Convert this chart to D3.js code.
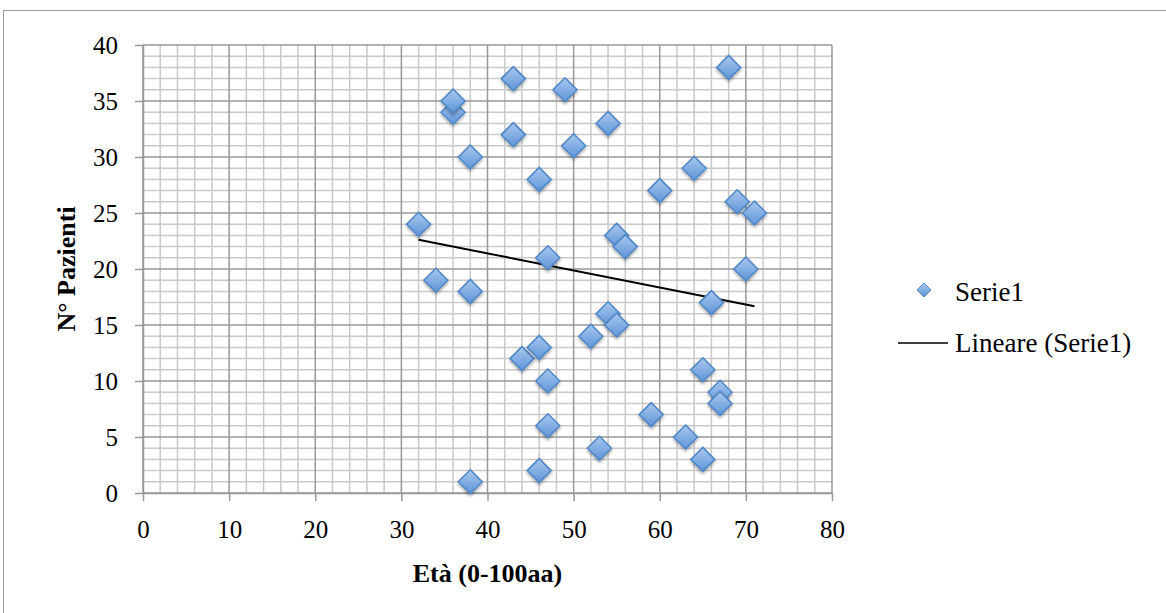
<!DOCTYPE html>
<html>
<head>
<meta charset="utf-8">
<script src="https://cdn.jsdelivr.net/npm/d3@7"></script>
<style>
  body { margin: 0; background: #fff; }
  text { font-family: "Liberation Serif", "DejaVu Serif", serif; }
</style>
</head>
<body>
<div id="mycanvas"></div>
<script>
const width = 1166;
const height = 613;

// età (x) e numero paziente (y)
const eta = [32, 34, 36, 36, 38, 38, 38, 43, 43, 44, 46, 46, 46, 47, 47, 47, 49, 50, 52,
  53, 54, 54, 55, 55, 56, 59, 60, 63, 64, 65, 65, 66, 67, 67, 68, 69, 70, 71];
const pazienti = [24, 19, 34, 35, 30, 18, 1, 37, 32, 12, 28, 13, 2, 21, 10, 6, 36, 31, 14,
  4, 33, 16, 23, 15, 22, 7, 27, 5, 29, 11, 3, 17, 9, 8, 38, 26, 20, 25];
const xTicks = [0, 10, 20, 30, 40, 50, 60, 70, 80];
const yTicks = [0, 5, 10, 15, 20, 25, 30, 35, 40];
const legendLabels = ["Serie1", "Lineare (Serie1)"];

const points = eta.map((d, i) => ({ x: d, y: pazienti[i] }));

const svg = d3
  .select("#mycanvas")
  .append("svg")
  .attr("width", width)
  .attr("height", height);

// chart border
svg.append("rect")
  .attr("x", 3.5).attr("y", 10.5)
  .attr("width", width).attr("height", height)
  .attr("fill", "none").attr("stroke", "#9a9a9a").attr("stroke-width", 1);

const x = d3.scaleLinear().domain([0, 80]).range([143, 832]);
const y = d3.scaleLinear().domain([0, 40]).range([493, 45]);

const defs = svg.append("defs");
const grad = defs.append("linearGradient")
  .attr("id", "diamondFill")
  .attr("x1", 0).attr("y1", 0).attr("x2", 0).attr("y2", 1);
grad.append("stop").attr("offset", "0%").attr("stop-color", "#a9c8ef");
grad.append("stop").attr("offset", "100%").attr("stop-color", "#5e95d8");

const shadow = defs.append("filter").attr("id", "shadow")
  .attr("x", "-50%").attr("y", "-50%").attr("width", "200%").attr("height", "200%");
shadow.append("feDropShadow")
  .attr("dx", 0).attr("dy", 2).attr("stdDeviation", 1.5)
  .attr("flood-color", "#000").attr("flood-opacity", 0.35);

// minor grid
const g = svg.append("g");
g.selectAll(".minor-x")
  .data(d3.range(0, 81, 2).filter(d => d % 10 !== 0))
  .join("line")
  .attr("x1", d => x(d)).attr("x2", d => x(d))
  .attr("y1", y(0)).attr("y2", y(40))
  .attr("stroke", "#c9c9c9").attr("stroke-width", 1.5);

g.selectAll(".minor-y")
  .data(d3.range(0, 41, 1).filter(d => d % 5 !== 0))
  .join("line")
  .attr("x1", x(0)).attr("x2", x(80))
  .attr("y1", d => y(d)).attr("y2", d => y(d))
  .attr("stroke", "#c9c9c9").attr("stroke-width", 1.5);

// major grid
g.selectAll(".major-x")
  .data(xTicks)
  .join("line")
  .attr("x1", d => x(d)).attr("x2", d => x(d))
  .attr("y1", y(0)).attr("y2", y(40))
  .attr("stroke", "#999").attr("stroke-width", 1.5);

g.selectAll(".major-y")
  .data(yTicks)
  .join("line")
  .attr("x1", x(0)).attr("x2", x(80))
  .attr("y1", d => y(d)).attr("y2", d => y(d))
  .attr("stroke", "#999").attr("stroke-width", 1.5);

// axes
const xAxis = svg.append("g")
  .attr("transform", `translate(0 ${y(0)})`)
  .call(d3.axisBottom(x).tickValues(xTicks).tickSize(8).tickPadding(19).tickSizeOuter(0));
const yAxis = svg.append("g")
  .attr("transform", `translate(${x(0)} 0)`)
  .call(d3.axisLeft(y).tickValues(yTicks).tickSize(8).tickPadding(17).tickSizeOuter(0));

[xAxis, yAxis].forEach(a => {
  a.select(".domain").attr("stroke", "#999").attr("stroke-width", 1.5);
  a.selectAll(".tick line").attr("stroke", "#999").attr("stroke-width", 1.5);
  a.selectAll(".tick text")
    .attr("fill", "#000")
    .style("font-family", "'Liberation Serif', serif")
    .style("font-size", "25px");
});

// trend line (least squares)
const mx = d3.mean(eta), my = d3.mean(pazienti);
const slope = d3.sum(points, p => (p.x - mx) * (p.y - my)) / d3.sum(points, p => (p.x - mx) ** 2);
const intercept = my - slope * mx;
const xr = d3.extent(eta);
svg.append("path")
  .datum(xr.map(v => [v, intercept + slope * v]))
  .attr("d", d3.line().x(d => x(d[0])).y(d => y(d[1])))
  .attr("fill", "none")
  .attr("stroke", "#000")
  .attr("stroke-width", 2);

// markers
const diamond = "M0,-12L12,0L0,12L-12,0Z";
svg.append("g")
  .selectAll("path")
  .data(points)
  .join("path")
  .attr("d", diamond)
  .attr("transform", d => `translate(${x(d.x)} ${y(d.y)})`)
  .attr("fill", "url(#diamondFill)")
  .attr("stroke", "#4f86c6")
  .attr("stroke-width", 1.5)
  .attr("filter", "url(#shadow)");

// axis titles
svg.append("text")
  .attr("x", (x(0) + x(80)) / 2)
  .attr("y", 582)
  .attr("text-anchor", "middle")
  .style("font-size", "26px")
  .style("font-weight", "bold")
  .text("Età (0-100aa)");

svg.append("text")
  .attr("transform", `translate(75 ${(y(0) + y(40)) / 2}) rotate(-90)`)
  .attr("text-anchor", "middle")
  .style("font-size", "26px")
  .style("font-weight", "bold")
  .text("N° Pazienti");

// legend
const leg = svg.append("g");
leg.append("path")
  .attr("d", "M0,-7L7,0L0,7L-7,0Z")
  .attr("transform", "translate(924 290)")
  .attr("fill", "url(#diamondFill)")
  .attr("stroke", "#4f86c6")
  .attr("stroke-width", 1);
leg.append("line")
  .attr("x1", 898).attr("x2", 948)
  .attr("y1", 343).attr("y2", 343)
  .attr("stroke", "#000").attr("stroke-width", 1.5);
leg.selectAll("text")
  .data(legendLabels)
  .join("text")
  .attr("x", 955)
  .attr("y", (d, i) => 301 + i * 51)
  .style("font-size", "27px")
  .text(d => d);
</script>
</body>
</html>
